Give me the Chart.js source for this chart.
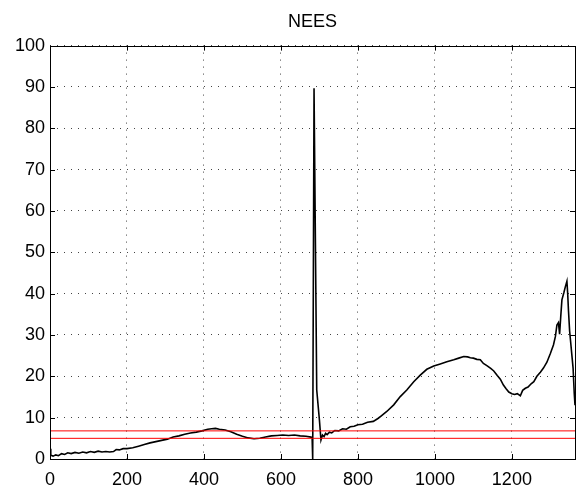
<!DOCTYPE html>
<html>
<head>
<meta charset="utf-8">
<script src="https://cdn.jsdelivr.net/npm/chart.js@4"></script>
<style>
  body { margin: 0; background: #fff; }
  #wrap { width: 577px; height: 487px; }
</style>
</head>
<body>
<div id="wrap"><canvas id="chart"></canvas></div>
<script>
const neesX = [0, 2, 8, 15, 22, 30, 38, 46, 55, 65, 75, 85, 95, 105, 115, 125, 135, 145, 155, 165,
  172, 180, 190, 200, 215, 230, 245, 260, 275, 290, 305, 320, 335, 350, 365, 380, 395, 410, 420, 430,
  440, 455, 470, 485, 500, 515, 530, 545, 560, 575, 590, 605, 620, 635, 650, 665, 678, 681, 682.5, 686,
  693, 700, 704, 708, 712, 716, 720, 726, 732, 740, 750, 760, 770, 780, 790, 800, 812, 825, 840, 852,
  860, 875, 893, 910, 927, 945, 962, 979, 997, 1014, 1031, 1049, 1062, 1075, 1085, 1092, 1100, 1109, 1118, 1126,
  1135, 1145, 1153, 1162, 1170, 1178, 1185, 1192, 1200, 1207, 1214, 1222, 1228, 1235, 1242, 1250, 1257, 1265, 1274, 1282,
  1291, 1300, 1308, 1313, 1317, 1321, 1324, 1327, 1330, 1335, 1339, 1343, 1345, 1347, 1350, 1353, 1356, 1359, 1362, 1364];
const neesY = [2.5, 0.9, 0.7, 1.0, 0.8, 1.3, 1.1, 1.5, 1.3, 1.6, 1.4, 1.7, 1.5, 1.8, 1.6, 1.9, 1.7, 1.8, 1.7, 1.8,
  2.3, 2.2, 2.5, 2.5, 2.7, 3.1, 3.5, 3.9, 4.2, 4.5, 4.8, 5.3, 5.6, 6.0, 6.3, 6.5, 6.8, 7.2, 7.3, 7.4,
  7.2, 7.0, 6.6, 6.0, 5.5, 5.1, 4.9, 5.0, 5.3, 5.6, 5.7, 5.8, 5.7, 5.8, 5.6, 5.5, 5.3, 5.2, 0, 89.7,
  16.7, 9.4, 4.6, 5.8, 5.4, 6.2, 5.9, 6.5, 6.3, 6.9, 6.8, 7.3, 7.2, 7.8, 7.9, 8.3, 8.4, 8.9, 9.1, 9.8,
  10.4, 11.5, 13.1, 15.1, 16.7, 18.7, 20.3, 21.7, 22.5, 23.0, 23.5, 24.0, 24.4, 24.8, 24.7, 24.5, 24.4, 24.1, 24.0, 23.1,
  22.6, 21.9, 21.3, 20.2, 19.3, 17.9, 17.0, 16.2, 15.8, 15.6, 15.8, 15.3, 16.6, 17.1, 17.4, 18.2, 18.7, 20.0, 21.0, 22.0,
  23.4, 25.5, 27.6, 29.6, 32.4, 33.0, 30.2, 34.5, 38.5, 40.2, 41.7, 43.0, 40.0, 36.0, 31.0, 28.0, 25.0, 22.0, 16.0, 13.0];

// confidence bounds (red lines)
const upperBound = 6.8;
const lowerBound = 5.0;

const xMax = 1364;
const xTicks = [0, 200, 400, 600, 800, 1000, 1200];
const yTicks = [0, 10, 20, 30, 40, 50, 60, 70, 80, 90, 100];

const font = { family: "'Liberation Sans', Arial, sans-serif", size: 18 };

// MATLAB-like box with inward ticks
const boxTicks = {
  id: "boxTicks",
  afterDatasetsDraw(chart) {
    const ctx = chart.ctx;
    const a = chart.chartArea;
    const xs = chart.scales.x;
    const ys = chart.scales.y;
    const len = 5;
    ctx.save();
    ctx.strokeStyle = "#000";
    ctx.lineWidth = 1;
    ctx.beginPath();
    xTicks.forEach(v => {
      const px = Math.round(xs.getPixelForValue(v)) + 0.5;
      ctx.moveTo(px, a.bottom); ctx.lineTo(px, a.bottom - len);
      ctx.moveTo(px, a.top); ctx.lineTo(px, a.top + len);
    });
    yTicks.forEach(v => {
      const py = Math.round(ys.getPixelForValue(v)) + 0.5;
      ctx.moveTo(a.left, py); ctx.lineTo(a.left + len, py);
      ctx.moveTo(a.right, py); ctx.lineTo(a.right - len, py);
    });
    ctx.stroke();
    ctx.strokeRect(Math.round(a.left) + 0.5, Math.round(a.top) + 0.5,
      Math.round(a.right - a.left), Math.round(a.bottom - a.top));
    ctx.restore();
  }
};

const line = (y) => [{ x: 0, y: y }, { x: xMax, y: y }];

new Chart(document.getElementById("chart"), {
  type: "line",
  data: {
    datasets: [
      {
        data: line(upperBound),
        borderColor: "#ff0000",
        borderWidth: 1,
        pointRadius: 0,
        order: 0
      },
      {
        data: line(lowerBound),
        borderColor: "#ff0000",
        borderWidth: 1,
        pointRadius: 0,
        order: 0
      },
      {
        data: neesX.map((x, i) => ({ x: x, y: neesY[i] })),
        borderColor: "#000",
        borderWidth: 1.6,
        pointRadius: 0,
        tension: 0,
        order: 1
      }
    ]
  },
  options: {
    responsive: true,
    maintainAspectRatio: false,
    animation: false,
    layout: { padding: { left: 0, right: 2, top: 0, bottom: 0 } },
    plugins: {
      legend: { display: false },
      tooltip: { enabled: false },
      title: {
        display: true,
        text: "NEES",
        color: "#000",
        fullSize: false,
        font: { family: font.family, size: 18, weight: "normal", lineHeight: 1.2 },
        padding: { top: 11, bottom: 13 }
      }
    },
    scales: {
      x: {
        type: "linear",
        min: 0,
        max: xMax,
        afterFit: (s) => { s.height = 28; },
        afterBuildTicks: (s) => { s.ticks = xTicks.map(v => ({ value: v })); },
        grid: { color: "#444", drawTicks: false },
        border: { display: false, dash: [1, 6] },
        ticks: {
          padding: 10,
          color: "#000",
          font: font,
          maxRotation: 0,
          autoSkip: false,
          callback: (v) => String(v)
        }
      },
      y: {
        type: "linear",
        min: 0,
        max: 100,
        afterFit: (s) => { s.width = 50; },
        afterBuildTicks: (s) => { s.ticks = yTicks.map(v => ({ value: v })); },
        grid: { color: "#444", drawTicks: false },
        border: { display: false, dash: [1, 6] },
        ticks: {
          padding: 5,
          color: "#000",
          font: font,
          callback: (v) => String(v)
        }
      }
    }
  },
  plugins: [boxTicks]
});
</script>
</body>
</html>
